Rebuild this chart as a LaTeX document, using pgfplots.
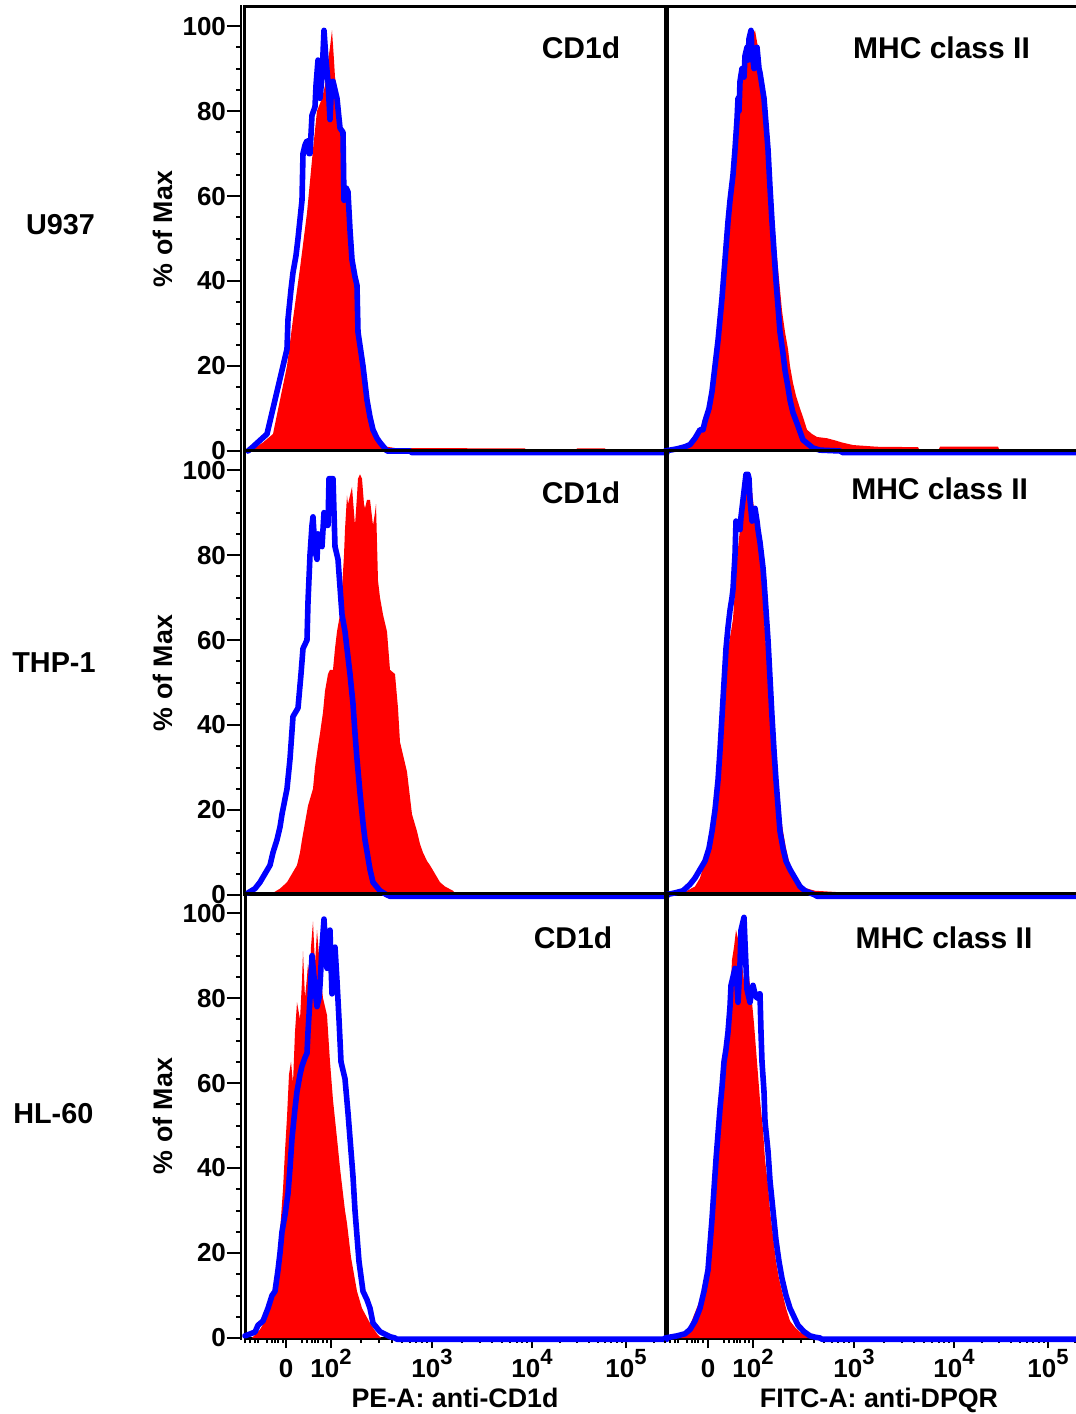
\documentclass[border=0pt]{standalone}
\usepackage{fontspec}
\setmainfont{Liberation Sans}
\usepackage{pgfplots}
\pgfplotsset{compat=1.18}
\definecolor{cred}{RGB}{255,0,0}
\definecolor{cblue}{RGB}{0,0,255}
\newcommand{\tkfont}{\bfseries\fontsize{13}{13}\selectfont}
\newcommand{\ttlfont}{\bfseries\fontsize{15}{15}\selectfont}
\newcommand{\rowfont}{\bfseries\fontsize{14.4}{14.4}\selectfont}
\newcommand{\labfont}{\bfseries\fontsize{13.4}{13.4}\selectfont}
\newcommand{\xtkfont}{\bfseries\fontsize{13}{13}\selectfont}
\newcommand{\dec}[1]{10\raisebox{0.5em}{\fontsize{11}{11}\selectfont #1}}
\pgfplotsset{
  panel/.style={anchor=south west, scale only axis, height=222pt,
    ymin=0, ymax=104.5, xmin=0, clip=false,
    axis line style={line width=1.5pt},
    tick align=outside, tick pos=left,
    every tick/.style={black, line width=1pt},
    major tick length=7pt, minor tick length=2.2pt,
    xtick=\empty},
  leftpanel/.style={width=211pt, xmax=422,
    ytick={0,20,...,100}, minor ytick={5,10,...,95},
    yticklabel style={font=\tkfont, xshift=1pt},
    ytick style={xshift=-2.2pt},
    /pgf/number format/assume math mode=true},
  rightpanel/.style={width=207pt, xmax=414, ytick=\empty},
  bottomrow/.style={
    xtick style={/pgfplots/major tick length=5pt, /pgfplots/minor tick length=2.5pt},
    xticklabel style={font=\xtkfont, anchor=north, text height=14pt, text depth=0pt, yshift=5pt}},
  redh/.style={draw=none, fill=cred},
  blueh/.style={cblue, line width=2.8pt, line join=round, line cap=round},
}
\begin{document}
\begin{tikzpicture}
\useasboundingbox (0,0) rectangle (538pt,707pt);
% ---------------- Row 1: U937 ----------------
\begin{axis}[panel, leftpanel, at={(122.5pt,481.5pt)}]
\addplot[redh] coordinates {(5,0) (18,2) (28,4) (35,12) (42,20) (48,31) (55,43) (62,56) (68,71) (72,80) (77,83) (80,86) (82,90) (85,95) (87,99) (89,92) (90,88) (93,84) (97,75) (100,63) (105,51) (110,40) (113,28) (117,20) (122,12) (128,5) (135,2) (142,1) (150,0.7) (280,0.6) (282,0) (330,0) (332,0.6) (360,0.6) (362,0) (422,0)} \closedcycle;
\addplot[blueh] coordinates {(3,0) (8,1) (15,2.5) (22,4) (25,7) (28,10) (32,14) (35,17) (38,20) (42,24) (43,31) (46,38) (48,42) (51,46) (53,50) (57,59) (58,70) (60,72) (62,73) (64,70) (65,70) (67,79) (70,81) (71,86) (73,92) (75,83) (77,88) (79,99) (81,92) (83,87) (85,78) (86,83) (88,87) (90,85) (92,83) (95,76) (98,75) (99,59) (101,62) (103,61) (105,52) (107,45) (110,41) (112,39) (113,28) (118,20) (122,12) (125,8) (128,5) (132,3) (135,2) (142,0) (165,0) (167,-0.4) (422,-0.4)};
\draw[line width=1pt] ([xshift=-2.2pt]rel axis cs:0,0) -- ([xshift=-2.2pt]rel axis cs:0,1.005);
\node[font=\ttlfont] at (axis cs:336,94.8) {CD1d};
\node[font=\labfont, rotate=90] at (axis cs:-82.5,52.25) {\% of Max};
\node[font=\rowfont] at (axis cs:-184.5,53.2) {U937};
\end{axis}
\begin{axis}[panel, rightpanel, at={(332.5pt,481.5pt)}]
\addplot[redh] coordinates {(15,0.7) (22,1.5) (30,3) (35,5) (40,7) (44,10) (47,14) (50,20) (53,26) (57,38) (60,45) (62,52) (64,58) (66,64) (68,71) (70,78) (73,83) (75,87) (78,90) (80,92) (83,95) (85,97) (88,98) (90,99) (93,95) (95,91) (97,87) (99,83) (101,78) (103,72) (105,66) (107,60) (109,54) (111,48) (113,43) (115,38) (117,33) (120,28) (123,24) (125,20) (128,16) (131,13) (135,10) (138,8) (142,5) (147,4) (152,3.3) (162,3) (170,2.5) (177,2) (188,1.4) (212,1) (253,0.9) (255,0) (273,0) (275,1) (333,1) (335,0) (414,0)} \closedcycle;
\addplot[blueh] coordinates {(0,0) (12,0.5) (20,1) (25,1.5) (30,3) (35,5) (38,5) (40,7) (44,10) (47,14) (50,20) (53,26) (55,31) (57,36) (59,42) (61,48) (63,54) (65,59) (68,65) (70,71) (72,78) (73,83) (74,80) (75,87) (77,90) (79,88) (80,93) (82,95) (83,92) (84,97) (85,98) (86,99) (87,94) (89,90) (91,94) (92,95) (94,90) (95,89) (97,86) (99,83) (101,77) (103,71) (105,62) (107,54) (109,47) (111,40) (113,34) (115,28) (118,23) (120,19) (123,15) (125,12) (128,9) (132,6.5) (138,2.6) (148,0.7) (155,0.2) (175,0) (178,-0.4) (414,-0.4)};
\node[font=\ttlfont] at (axis cs:276.5,94.9) {MHC class II};
\end{axis}
% ---------------- Row 2: THP-1 ----------------
\begin{axis}[panel, leftpanel, at={(122.5pt,259.5pt)}]
\addplot[redh] coordinates {(28,0.5) (35,1.5) (42,3) (47,5) (52,7) (55,10) (57,13) (60,17) (63,21) (68,25) (70,30) (73,35) (75,38) (78,43) (80,48) (83,52) (85,53) (88,53) (90,58) (92,62) (95,66) (97,72) (99,80) (100,86) (102,94) (103,92) (105,94) (107,96) (109,90) (110,87) (112,94) (113,98) (115,99) (117,98) (119,92) (120,91) (122,93) (125,93) (127,89) (128,87) (130,90) (131,92) (133,74) (135,70) (138,66) (142,62) (145,53) (150,52) (153,44) (155,36) (158,33) (162,29) (165,23) (167,19) (172,15) (175,12) (178,10) (182,8) (185,7) (190,5) (195,3) (200,2) (208,1) (212,0)} \closedcycle;
\addplot[blueh] coordinates {(3,0.5) (10,1.5) (15,3) (20,5) (25,7) (28,10) (32,13) (35,16) (37,19) (42,25) (45,32) (48,42) (53,44) (56,52) (58,58) (62,60) (63,69) (65,80) (67,87) (68,89) (70,81) (72,79) (73,85) (75,83) (77,82) (79,90) (81,87) (83,87) (84,98) (88,98) (90,82) (93,79) (97,66) (100,62) (105,52) (108,45) (110,38) (112,32) (115,24) (118,17) (120,13) (125,6) (128,3) (135,1) (142,0) (145,-0.3) (422,-0.3)};
\draw[line width=1pt] ([xshift=-2.2pt]rel axis cs:0,0) -- ([xshift=-2.2pt]rel axis cs:0,1);
\node[font=\ttlfont] at (axis cs:336,94.6) {CD1d};
\node[font=\labfont, rotate=90] at (axis cs:-82.5,52.25) {\% of Max};
\node[font=\rowfont] at (axis cs:-191,54.7) {THP-1};
\end{axis}
\begin{axis}[panel, rightpanel, at={(332.5pt,259.5pt)}]
\addplot[redh] coordinates {(15,0.5) (22,1) (30,2) (35,4) (40,8) (44,12) (47,18) (50,23) (53,29) (56,38) (58,46) (61,52) (63,58) (66,62) (68,65) (70,72) (72,79) (74,84) (76,88) (78,91) (80,93) (82,96) (83,99) (85,97) (87,95) (89,91) (91,88) (93,84) (95,79) (97,73) (100,62) (102,55) (105,46) (108,38) (110,32) (113,25) (115,20) (118,15) (121,11) (124,8) (127,5) (131,3) (135,2) (150,1) (185,0.5) (195,0)} \closedcycle;
\addplot[blueh] coordinates {(0,0) (10,0.5) (18,1) (25,2.5) (30,4) (35,6) (40,8) (44,11) (47,15) (50,20) (53,27) (55,34) (57,42) (59,50) (61,58) (63,63) (65,67) (67,70) (68,72) (70,80) (71,88) (73,87) (75,86) (76,89) (77,91) (79,95) (81,99) (83,99) (84,98) (85,93) (87,88) (88,89) (90,91) (92,88) (93,86) (95,83) (96,81) (98,77) (99,74) (101,67) (103,60) (105,51) (107,42) (109,34) (111,27) (113,21) (115,15) (118,11) (121,8) (125,6) (130,4) (135,2) (140,1) (147,0.3) (150,0) (152,-0.3) (414,-0.3)};
\node[font=\ttlfont] at (axis cs:274.7,95.5) {MHC class II};
\end{axis}
% ---------------- Row 3: HL-60 ----------------
\begin{axis}[panel, leftpanel, bottomrow, at={(122.5pt,38pt)},
  xtick={41,86,187,287,381}, xticklabels={0,\dec{2},\dec{3},\dec{4},\dec{5}},
  minor xtick={0,5,10,13,22,27,30,33,38,57,62,67,70,73,78,82,116,134,147,157,165,171,177,182,217,235,247,257,265,272,277,282,315,332,344,353,360,366,372,377,409}]
\addplot[redh] coordinates {(7,0) (15,2) (20,4) (25,8) (30,11) (33,18) (35,25) (38,35) (40,44) (42,52) (44,62) (46,65) (48,60) (50,72) (52,79) (55,75) (57,84) (58,91) (60,80) (62,85) (63,88) (65,85) (66,92) (68,98) (70,88) (72,96) (74,90) (75,86) (78,80) (80,78) (82,76) (85,65) (88,56) (92,47) (95,40) (97,36) (100,30) (102,27) (106,19) (112,11) (117,7) (125,3.5) (132,1) (136,0)} \closedcycle;
\addplot[blueh] coordinates {(0,0.5) (10,1.4) (13,3) (18,4) (23,7) (27,10) (30,11) (33,16) (35,20) (37,25) (40,29) (43,34) (45,40) (47,47) (50,54) (52,58) (55,62) (57,64) (60,66) (62,67) (63,72) (65,80) (67,90) (69,85) (70,82) (72,78) (74,80) (75,83) (77,92) (79,98.6) (81,90) (82,87) (84,93) (85,96) (86,88) (87,81) (89,88) (90,92) (92,84) (94,75) (96,65) (98,63) (100,61) (103,53) (105,47) (108,38) (110,30) (112,24) (114,18) (118,11) (122,9) (125,7) (128,3.5) (135,1.5) (145,0.3) (150,0) (152,-0.3) (422,-0.3)};
\draw[line width=1pt] ([xshift=-2.2pt]rel axis cs:0,-0.005) -- ([xshift=-2.2pt]rel axis cs:0,1);
\node[font=\ttlfont] at (axis cs:328,94.1) {CD1d};
\node[font=\labfont, rotate=90] at (axis cs:-82.5,52.25) {\% of Max};
\node[font=\rowfont] at (axis cs:-191.7,52.9) {HL-60};
\node[font=\labfont, anchor=base] at ([yshift=-34.5pt]axis cs:210,0) {PE-A: anti-CD1d};
\end{axis}
\begin{axis}[panel, rightpanel, bottomrow, at={(332.5pt,38pt)},
  xtick={43,88,189,289,383}, xticklabels={0,\dec{2},\dec{3},\dec{4},\dec{5}},
  minor xtick={0,5,10,13,22,27,30,33,38,59,64,69,72,75,80,84,118,136,149,159,167,173,179,184,219,237,249,259,267,274,279,284,317,334,346,355,362,368,374,379,410}]
\addplot[redh] coordinates {(13,0.5) (20,1.5) (25,3) (30,6) (35,9) (39,13) (42,18) (45,25) (47,32) (49,40) (51,47) (53,52) (55,56) (57,60) (58,65) (60,69) (61,70) (62,74) (64,79) (66,84) (67,89) (69,92) (71,96) (73,94) (75,92) (77,88) (79,84) (81,85) (83,87) (85,83) (87,79) (89,74) (91,68) (93,62) (95,56) (98,49) (100,42) (103,36) (105,30) (108,24) (111,18) (114,14) (117,11) (121,7) (125,4) (130,2.5) (135,1.4) (141,0.6) (147,0)} \closedcycle;
\addplot[blueh] coordinates {(0,0) (12,0.5) (20,1) (25,2) (30,4) (35,7) (39,11) (43,16) (45,22) (47,28) (49,35) (51,42) (53,48) (55,54) (57,59) (59,65) (61,68) (63,72) (65,78) (66,83) (68,85) (70,87) (72,83) (73,79) (75,88) (76,96) (78,98) (79,99) (80,93) (82,82) (84,80) (85,79) (87,82) (88,83) (90,81) (92,80) (94,81) (95,81) (96,72) (97,65) (99,58) (100,51) (103,44) (105,37) (108,30) (111,23) (114,18) (117,14) (121,10) (125,7) (129,5) (133,3) (139,1.5) (145,0.5) (150,0.2) (155,0) (157,-0.3) (414,-0.3)};
\node[font=\ttlfont] at (axis cs:279,94.1) {MHC class II};
\node[font=\labfont, anchor=base] at ([yshift=-34.5pt]axis cs:214,0) {FITC-A: anti-DPQR};
\end{axis}
\end{tikzpicture}
\end{document}
